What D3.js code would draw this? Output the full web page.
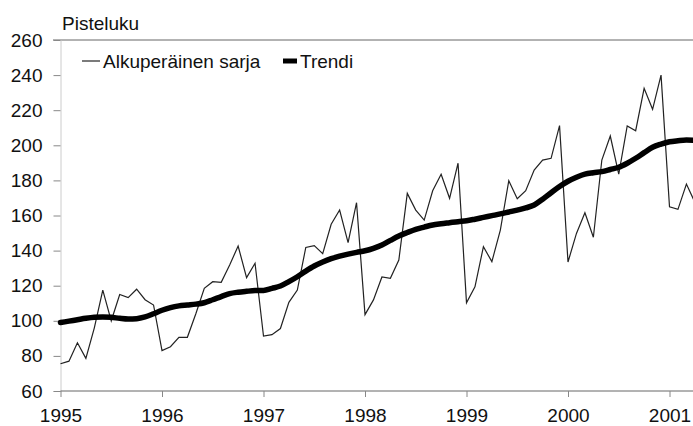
<!DOCTYPE html>
<html>
<head>
<meta charset="utf-8">
<script src="https://cdn.jsdelivr.net/npm/d3@7"></script>
<style>
  body { margin: 0; background: #fff; }
  svg text { font-family: "Liberation Sans", Arial, sans-serif; fill: #111; }
</style>
</head>
<body>
<svg width="693" height="426"></svg>
<script>
// monthly index values, Jan 1995 .. Apr 2001
const original = [
  75.5, 77, 87.5, 78.6, 96, 117.5, 100, 115, 113.2, 118, 112, 109,
  83, 85.2, 90.6, 90.6, 104, 118.5, 122.3, 121.9, 131.8, 142.6, 124.6, 132.8,
  91.3, 92.1, 95.6, 110.5, 117.5, 141.8, 142.8, 138.3, 155, 163.1, 144.5, 167.3,
  103.5, 111.9, 125, 124.2, 134.6, 172.6, 163.1, 157.4, 174.1, 183.5, 169.8, 189.8,
  110.3, 119.4, 142.2, 133.7, 151.7, 179.8, 169.6, 174.1, 185.9, 191.6, 192.6, 211.2,
  133.5, 149.8, 161.6, 147.6, 191.6, 205.3, 183.6, 211, 208.3, 232.5, 220.5, 240,
  165, 163.5, 177.9, 167.5
];
const trend = [
  99, 99.8, 100.6, 101.4, 102, 102.2, 102, 101.4, 101, 101.2, 102.2, 104,
  106, 107.5, 108.5, 109, 109.5, 110.3, 112, 113.8, 115.5, 116.3, 116.8, 117.2,
  117.3, 118.5, 119.8, 122.3, 125.1, 128.3, 131.2, 133.5, 135.4, 136.8, 138, 139,
  139.9, 141.3, 143.2, 145.8, 148.3, 150.3, 152.1, 153.4, 154.6, 155.3, 155.9, 156.5,
  157, 157.9, 158.9, 159.9, 160.9, 162, 163.1, 164.3, 166, 169.3, 173, 176.5,
  179.5, 181.8, 183.6, 184.4, 185, 186.2, 187.5, 189.8, 192.6, 195.8, 198.9, 200.7,
  202, 202.6, 203, 202.8
];
const years = [1995, 1996, 1997, 1998, 1999, 2000, 2001];
const yTicks = [60, 80, 100, 120, 140, 160, 180, 200, 220, 240, 260];
const seriesNames = ["Alkuperäinen sarja", "Trendi"];

const svg = d3.select("svg");

const x = d3.scaleLinear().domain([0, 72]).range([60.5, 669.5]);
const y = d3.scaleLinear().domain([60, 260]).range([391, 40]);

// top frame line at 260
svg.append("line")
  .attr("x1", 53).attr("x2", 693)
  .attr("y1", y(260)).attr("y2", y(260))
  .attr("stroke", "#666").attr("stroke-width", 1);

// y axis
const yAxis = svg.append("g")
  .attr("transform", `translate(${x(0)},0)`)
  .call(d3.axisLeft(y).tickValues(yTicks).tickSize(7).tickPadding(11));
yAxis.select(".domain").attr("stroke", "#ccc");
yAxis.selectAll(".tick line").attr("stroke", "#888");
yAxis.selectAll("text").attr("font-size", 19).attr("font-family", "Liberation Sans, Arial, sans-serif").attr("fill", "#111");

// x axis
const xAxis = svg.append("g")
  .attr("transform", `translate(0,${y(60)})`)
  .call(d3.axisBottom(x).tickValues(years.map((d, i) => i * 12)).tickFormat((d, i) => years[i]).tickSize(6).tickPadding(12));
xAxis.select(".domain").attr("d", `M${x(0)},0H693`).attr("stroke", "#666");
xAxis.selectAll(".tick line").attr("stroke", "#888");
xAxis.selectAll("text").attr("font-size", 19).attr("font-family", "Liberation Sans, Arial, sans-serif").attr("fill", "#111");

// axis title
svg.append("text").attr("x", 62).attr("y", 30).attr("font-size", 19).text("Pisteluku");

// lines
const line = d3.line().x((d, i) => x(i)).y(d => y(d));
svg.append("path").datum(original)
  .attr("d", line)
  .attr("fill", "none").attr("stroke", "#222").attr("stroke-width", 1.2);

svg.append("path").datum(trend)
  .attr("d", line.curve(d3.curveMonotoneX))
  .attr("fill", "none").attr("stroke", "#000").attr("stroke-width", 5.5)
  .attr("stroke-linecap", "round");

// legend
const legend = svg.append("g");
legend.append("line").attr("x1", 82).attr("x2", 100).attr("y1", 61).attr("y2", 61)
  .attr("stroke", "#222").attr("stroke-width", 1.2);
legend.append("text").attr("x", 103).attr("y", 68).attr("font-size", 19).text(seriesNames[0]);
legend.append("line").attr("x1", 283).attr("x2", 297).attr("y1", 61).attr("y2", 61)
  .attr("stroke", "#000").attr("stroke-width", 5);
legend.append("text").attr("x", 300).attr("y", 68).attr("font-size", 19).text(seriesNames[1]);
</script>
</body>
</html>
